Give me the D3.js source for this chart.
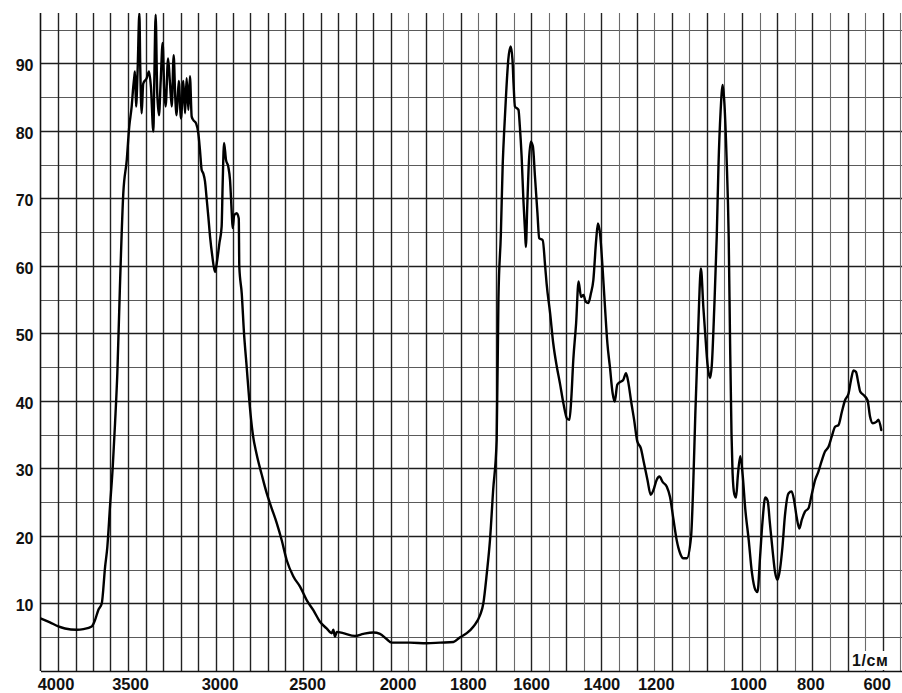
<!DOCTYPE html>
<html>
<head>
<meta charset="utf-8">
<script src="https://cdn.jsdelivr.net/npm/d3@7/dist/d3.min.js"></script>
<style>
  html, body { margin: 0; padding: 0; background: #fff; }
  svg { display: block; }
  .lbl { font-family: "Liberation Sans", Arial, sans-serif; font-weight: bold; fill: #111; }
</style>
</head>
<body>
<script>
// IR transmission spectrum: wavenumber (1/см) vs transmittance (%)
const wavenumber = [
  4000,3946,3898,3860,3793,3755,3707,3689,3670,3650,
  3631,3618,3603,3587,3574,3561,3546,3527,3507,3493,
  3479,3470,3464,3460,3454,3445,3435,3430,3422,3413,
  3393,3380,3369,3355,3350,3342,3333,3323,3313,3302,
  3293,3285,3271,3260,3250,3239,3230,3222,3210,3197,
  3184,3174,3165,3155,3146,3136,3127,3111,3098,3089,
  3079,3070,3060,3050,3041,3031,3018,3003,2990,2978,
  2965,2959,2951,2940,2927,2917,2907,2902,2893,2879,
  2867,2864,2850,2837,2822,2807,2787,2765,2736,2707,
  2679,2650,2622,2593,2555,2517,2479,2441,2403,2365,
  2336,2327,2317,2307,2270,2203,2155,2098,2060,2021,
  1997,1945,1897,1859,1821,1802,1783,1764,1745,1736,
  1726,1717,1708,1698,1693,1686,1681,1677,1671,1665,
  1658,1653,1650,1646,1636,1632,1627,1622,1617,1615,
  1611,1607,1601,1595,1589,1582,1577,1567,1560,1556,
  1546,1537,1527,1518,1508,1498,1491,1486,1480,1472,
  1465,1458,1451,1445,1437,1430,1423,1415,1410,1404,
  1397,1390,1383,1376,1368,1362,1355,1347,1338,1330,
  1323,1316,1307,1298,1288,1279,1269,1260,1252,1243,
  1235,1226,1214,1205,1195,1186,1176,1167,1157,1145,
  1139,1133,1126,1122,1117,1110,1105,1098,1091,1086,
  1079,1072,1067,1061,1055,1050,1044,1038,1034,1030,
  1027,1022,1017,1012,1005,998,991,981,972,962,
  956,949,942,934,927,921,913,906,899,892,
  885,878,868,859,852,845,837,830,821,811,
  802,792,783,773,764,754,745,735,726,716,
  707,697,690,683,676,669,664,655,643,636,
  628,618,612,604
];
const transmittance = [
  7.8,7.2,6.6,6.3,6.1,6.2,6.6,7.5,9.0,10.0,
  15.4,18.4,24.3,30.3,36.7,44.1,57.0,70.7,75.7,80.6,
  83.6,86.5,88.0,88.8,83.6,89.0,97.4,89.5,82.6,87.0,
  87.8,88.8,86.5,79.9,87.0,97.2,85.6,82.3,87.5,93.0,
  86.0,83.6,90.7,87.0,83.6,91.2,85.0,82.3,87.4,81.8,
  87.4,82.6,87.8,83.1,88.1,82.1,81.6,81.1,79.6,77.2,
  74.2,73.7,72.5,69.8,67.3,64.3,61.4,59.1,60.9,63.3,
  65.8,72.2,78.2,75.7,74.7,72.7,67.8,65.6,67.5,67.8,
  67.0,59.9,55.9,50.0,45.1,40.1,35.1,32.1,29.1,26.3,
  24.1,21.9,19.4,16.4,14.0,12.5,10.5,9.0,7.3,6.3,
  5.6,6.1,5.1,5.8,5.6,5.2,5.5,5.7,5.5,4.7,
  4.2,4.2,4.1,4.2,4.3,5.0,5.6,6.6,8.3,10.0,
  14.5,19.4,26.8,34.2,55.0,64.8,74.7,79.6,85.6,90.5,
  92.5,90.5,87.0,83.6,83.1,80.6,76.2,69.8,64.8,62.8,
  68.8,74.7,78.4,77.7,73.2,67.8,64.1,63.8,59.9,57.4,
  53.0,48.5,45.1,42.6,39.6,37.4,37.2,40.1,46.1,51.5,
  57.7,55.4,55.7,54.7,54.5,55.9,57.9,63.8,66.3,64.8,
  59.9,54.0,48.5,45.1,41.1,39.9,42.4,42.8,43.1,44.1,
  42.6,40.1,37.2,34.0,33.0,30.8,28.3,26.1,26.8,28.3,
  28.8,28.0,27.3,25.8,22.4,19.4,17.4,16.7,16.7,19.9,
  27.3,37.9,48.5,54.8,59.6,53.8,50.1,45.3,43.4,45.3,
  53.8,64.3,74.9,82.9,86.8,83.9,76.0,64.3,48.5,35.2,
  29.4,26.2,25.7,28.9,31.8,28.9,24.1,19.4,14.6,12.0,
  11.7,16.7,22.0,25.7,25.2,22.0,17.8,14.6,13.5,15.1,
  18.4,23.0,26.3,26.6,25.3,22.9,21.1,22.4,23.6,24.1,
  26.1,28.3,29.5,31.2,32.5,33.2,34.7,36.2,36.4,38.4,
  40.1,41.1,43.1,44.5,44.3,42.6,41.4,40.9,40.1,37.7,
  36.7,36.9,37.2,35.7
];
const xTickValues = [4000, 3500, 3000, 2500, 2000, 1800, 1600, 1400, 1200, 1000, 800, 600];
const yTickValues = [10, 20, 30, 40, 50, 60, 70, 80, 90];
const unitLabel = "1/см";

const W = 902, H = 693;
const padL = 40.5, padB = 671, padT = 13, padR = W;

// Chart paper: wavenumber scale doubles below 2000 1/см
const x = d3.scaleLinear().domain([4000, 2000, 545]).range([padL, 390.5, padR]);
const y = d3.scaleLinear().domain([0, 90]).range([padB, 63.3]);

const svg = d3.select("body").append("svg").attr("width", W).attr("height", H);
svg.append("rect").attr("width", W).attr("height", H).attr("fill", "#fff");

// horizontal grid every 5 %, heavier every 10 %
const hLines = d3.range(5, 96, 5);
svg.append("g").selectAll("line").data(hLines).join("line")
  .attr("x1", padL).attr("x2", padR)
  .attr("y1", d => Math.round(y(d)) + 0.5).attr("y2", d => Math.round(y(d)) + 0.5)
  .attr("stroke", d => d % 10 === 0 ? "#1e1e1e" : "#5a5a5a")
  .attr("stroke-width", d => d % 10 === 0 ? 1.5 : 1.1);

// vertical grid: every 100 above 2000, every 50 below
const vLines = d3.range(3900, 2000, -100).concat(d3.range(2000, 549, -50));
svg.append("g").selectAll("line").data(vLines).join("line")
  .attr("x1", d => Math.round(x(d)) + 0.5).attr("x2", d => Math.round(x(d)) + 0.5)
  .attr("y1", padT).attr("y2", padB)
  .attr("stroke", d => (d > 2000 || d % 100 === 0) ? "#222" : "#6a6a6a")
  .attr("stroke-width", d => (d > 2000 || d % 100 === 0) ? 1.4 : 1.1);

// frame: left and bottom axes
const xAxis = d3.axisBottom(x).tickValues(xTickValues).tickSize(0).tickPadding(0).tickFormat(d3.format("d"));
const gx = svg.append("g").attr("transform", `translate(0,${padB})`).call(xAxis);
gx.select(".domain").attr("stroke", "#111").attr("stroke-width", 1.6);
const nudge = {4000: 15, 3500: 2, 3000: 4, 2500: 4, 2000: 7, 1800: 7, 1200: -16, 1000: 6, 800: -2, 600: -6};
gx.selectAll(".tick text")
  .attr("class", "lbl").attr("font-size", 16.5).attr("fill", "#111")
  .attr("y", 18.5).attr("dy", 0)
  .attr("dx", d => nudge[d] || 0);

const yAxis = d3.axisLeft(y).tickValues(yTickValues).tickSize(0).tickPadding(7);
const gy = svg.append("g").attr("transform", `translate(${padL},0)`).call(yAxis);
gy.select(".domain").remove();
gy.selectAll(".tick text").attr("class", "lbl").attr("font-size", 16).attr("fill", "#111")
  .attr("dy", "0.45em");
svg.append("line").attr("x1", padL).attr("x2", padL).attr("y1", padT).attr("y2", padB)
  .attr("stroke", "#111").attr("stroke-width", 1.6);

// unit label on a white patch
const unit = svg.append("g");
const ut = unit.append("text").attr("class", "lbl").attr("x", 852).attr("y", 666)
  .attr("font-size", 16).attr("letter-spacing", 0.6).text(unitLabel);
const bb = ut.node().getBBox();
unit.insert("rect", "text").attr("x", bb.x - 2).attr("y", bb.y - 1)
  .attr("width", bb.width + 4).attr("height", bb.height + 2).attr("fill", "#fff");

// spectrum trace, clipped at the top of the paper
svg.append("clipPath").attr("id", "plot")
  .append("rect").attr("x", padL).attr("y", padT).attr("width", padR - padL).attr("height", padB - padT);
const pts = wavenumber.map((w, i) => [w, transmittance[i]]);
const line = d3.line().x(d => x(d[0])).y(d => y(d[1])).curve(d3.curveMonotoneX);
svg.append("path").attr("clip-path", "url(#plot)")
  .attr("d", line(pts))
  .attr("fill", "none").attr("stroke", "#000").attr("stroke-width", 2.4)
  .attr("stroke-linejoin", "round").attr("stroke-linecap", "round");
</script>
</body>
</html>
